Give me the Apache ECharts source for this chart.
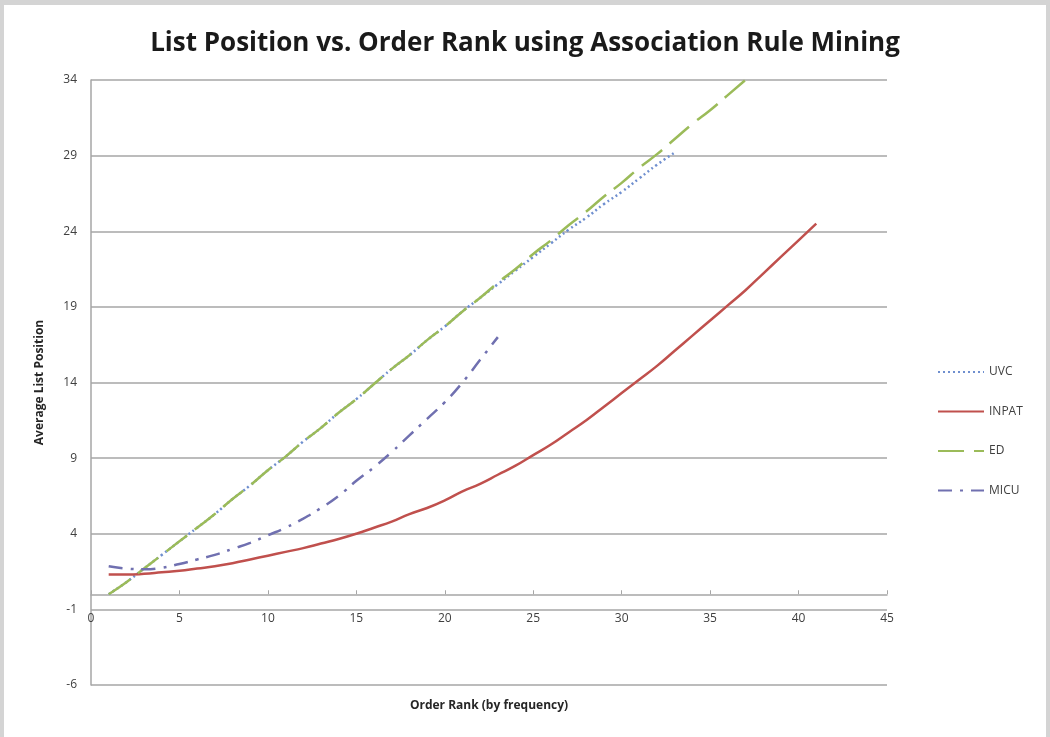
<!DOCTYPE html>
<html>
<head>
<meta charset="utf-8">
<script src="https://cdn.jsdelivr.net/npm/echarts@6/dist/echarts.min.js"></script>
<style>
  html, body { margin: 0; padding: 0; background: #d4d4d4; overflow: hidden; }
  #frame { position: absolute; left: 4px; top: 5px; width: 1042px; height: 732px; background: #ffffff; }
  #chart { position: absolute; left: 0; top: 0; width: 1050px; height: 737px; }
</style>
</head>
<body>
<div id="frame"></div>
<div id="chart"></div>
<script>
const titleText = 'List Position vs. Order Rank using Association Rule Mining';
const xAxisName = 'Order Rank (by frequency)';
const yAxisName = 'Average List Position';
const seriesNames = ['UVC', 'INPAT', 'ED', 'MICU'];

const uvcX = [1,2,3,4,5,6,7,8,9,10,11,12,13,14,15,16,17,18,19,20,21,22,23,24,25,26,27,28,29,30,31,32,33];
const uvcY = [0.0,0.8,1.7,2.6,3.5,4.4,5.3,6.3,7.2,8.2,9.1,10.1,11.0,12.0,12.9,13.9,14.9,15.8,16.8,17.7,18.7,19.6,20.5,21.4,22.3,23.2,24.1,24.9,25.8,26.6,27.5,28.4,29.2];

const inpatX = [1,2,3,4,5,6,7,8,9,10,11,12,13,14,15,16,17,18,19,20,21,22,23,24,25,26,27,28,29,30,31,32,33,34,35,36,37,38,39,40,41];
const inpatY = [1.3,1.3,1.35,1.45,1.55,1.7,1.85,2.05,2.3,2.55,2.8,3.05,3.35,3.65,4.0,4.4,4.8,5.3,5.7,6.2,6.8,7.3,7.9,8.5,9.2,9.9,10.7,11.5,12.4,13.3,14.2,15.1,16.1,17.1,18.1,19.1,20.1,21.2,22.3,23.4,24.5];

const edX = [1,2,3,4,5,6,7,8,9,10,11,12,13,14,15,16,17,18,19,20,21,22,23,24,25,26,27,28,29,30,31,32,33,34,35,36,37];
const edY = [0.0,0.8,1.7,2.6,3.5,4.4,5.3,6.3,7.2,8.2,9.1,10.1,11.0,12.0,12.9,13.9,14.9,15.8,16.8,17.7,18.7,19.6,20.6,21.5,22.5,23.4,24.4,25.3,26.3,27.2,28.2,29.1,30.1,31.1,32.0,33.0,34.0];

const micuX = [1,2,3,4,5,6,7,8,9,10,11,12,13,14,15,16,17,18,19,20,21,22,23];
const micuY = [1.85,1.7,1.65,1.75,2.0,2.3,2.6,3.0,3.4,3.9,4.4,5.0,5.7,6.5,7.5,8.4,9.4,10.5,11.6,12.7,14.0,15.5,17.0];

const yTicks = [-6,-1,4,9,14,19,24,29,34];
const xTicks = [0,5,10,15,20,25,30,35,40,45];

function pairs(xs, ys) { return xs.map((x, i) => [x, ys[i]]); }

const font = '"Liberation Sans Narrow", "Open Sans", sans-serif';
const axisGray = '#a6a6a6';
const chart = echarts.init(document.getElementById('chart'));
chart.setOption({
  backgroundColor: 'transparent',
  animation: false,
  title: {
    text: titleText,
    left: 'center',
    top: 26,
    textStyle: { fontFamily: font, fontWeight: 'bold', fontSize: 26, color: '#1a1a1a' }
  },
  legend: {
    orient: 'vertical',
    left: 932,
    top: 361,
    itemWidth: 46,
    itemHeight: 14,
    itemGap: 27.5,
    data: seriesNames,
    itemStyle: { opacity: 0 },
    textStyle: { fontFamily: font, fontSize: 12, color: '#404040' }
  },
  grid: { left: 91, right: 163, top: 80, bottom: 52, outerBoundsMode: 'none', containLabel: false },
  xAxis: [
    {
      type: 'value',
      min: xTicks[0],
      max: xTicks[xTicks.length - 1],
      interval: 5,
      position: 'bottom',
      name: xAxisName,
      nameLocation: 'middle',
      nameGap: 15,
      nameMoveOverlap: false,
      nameTextStyle: { fontFamily: font, fontWeight: 'bold', fontSize: 12, color: '#262626' },
      axisLine: { show: false, onZero: false },
      axisTick: { show: false },
      axisLabel: { margin: -72, fontFamily: font, fontSize: 12, color: '#404040', verticalAlign: 'top' },
      splitLine: { show: false }
    },
    {
      type: 'value',
      min: xTicks[0],
      max: xTicks[xTicks.length - 1],
      interval: 5,
      position: 'bottom',
      axisLine: { show: true, onZero: true, lineStyle: { color: axisGray, width: 1.5 } },
      axisTick: { show: true, inside: true, length: 4, lineStyle: { color: axisGray } },
      axisLabel: { show: false },
      splitLine: { show: false }
    }
  ],
  yAxis: {
    type: 'value',
    min: yTicks[0],
    max: yTicks[yTicks.length - 1],
    interval: 5,
    name: yAxisName,
    nameLocation: 'middle',
    nameGap: 45,
    nameTextStyle: { fontFamily: font, fontWeight: 'bold', fontSize: 12, color: '#262626' },
    axisLine: { show: true, lineStyle: { color: axisGray, width: 1.5 } },
    axisTick: { show: false },
    axisLabel: { margin: 14, fontFamily: font, fontSize: 12, color: '#404040' },
    splitLine: { show: true, lineStyle: { color: axisGray, width: 1.5 } }
  },
  series: [
    {
      name: seriesNames[0], type: 'line', smooth: true, symbol: 'none',
      data: pairs(uvcX, uvcY),
      itemStyle: { color: '#6f8fcf' },
      lineStyle: { color: '#6f8fcf', width: 2.5, type: [2, 3] }
    },
    {
      name: seriesNames[1], type: 'line', smooth: true, symbol: 'none',
      data: pairs(inpatX, inpatY),
      itemStyle: { color: '#c0504d' },
      lineStyle: { color: '#c0504d', width: 2.5, type: 'solid' }
    },
    {
      name: seriesNames[2], type: 'line', smooth: true, symbol: 'none',
      data: pairs(edX, edY),
      itemStyle: { color: '#9bbb59' },
      lineStyle: { color: '#9bbb59', width: 2.5, type: [26, 10] }
    },
    {
      name: seriesNames[3], type: 'line', smooth: true, symbol: 'none',
      data: pairs(micuX, micuY),
      itemStyle: { color: '#7070b0' },
      lineStyle: { color: '#7070b0', width: 2.5, type: [14, 8, 3, 8] }
    }
  ]
});
</script>
</body>
</html>
